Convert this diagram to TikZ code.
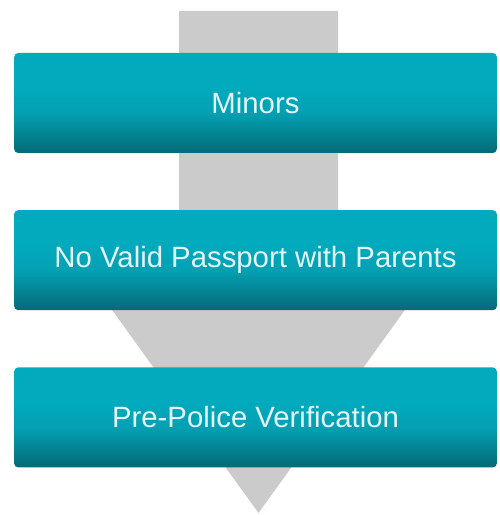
\documentclass[tikz,border=0pt]{standalone}
\usepackage{fontspec}
\setmainfont{Liberation Sans}
\usetikzlibrary{positioning}
\definecolor{boxtop}{HTML}{02AABE}
\definecolor{boxmid}{HTML}{03A0B2}
\definecolor{boxbot}{HTML}{046A76}
\definecolor{arrowgray}{HTML}{CBCBCB}
\definecolor{boxtext}{HTML}{E4F5F7}
\pgfdeclareverticalshading{boxshade}{100bp}{color(0bp)=(boxbot); color(25bp)=(boxbot); color(45bp)=(boxmid); color(58bp)=(boxtop); color(100bp)=(boxtop)}

\begin{document}
\begin{tikzpicture}[x=0.75pt,y=0.75pt,
    bluebox/.style={rectangle,rounded corners=3pt,shading=boxshade,
      minimum width=362pt,minimum height=75pt,text=boxtext,font=\fontsize{22}{26}\selectfont}]
      \useasboundingbox (0,0) rectangle (500,515);
      \fill[arrowgray] (179,504) -- (338,504) -- (338,210) -- (408.5,210)
        -- (258.5,2) -- (108.5,210) -- (179,210) -- cycle;
      \node[bluebox] (minors) at (255.5,412) {Minors};
      \node[bluebox,below=42.5pt of minors] (passport) {No Valid Passport with Parents};
      \node[bluebox,below=42.5pt of passport] (police) {Pre-Police Verification};
    \end{tikzpicture}
\end{document}
